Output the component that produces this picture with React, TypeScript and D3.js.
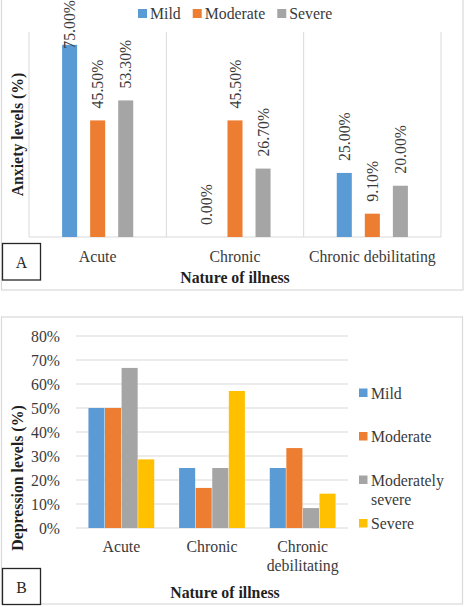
import React, { useEffect, useRef } from 'react';
import * as d3 from 'd3';

const categories = ['Acute', 'Chronic', 'Chronic debilitating'];

// Panel A – anxiety
const anxietyLevels = ['Mild', 'Moderate', 'Severe'];
const anxietyMild = [75.0, 0.0, 25.0];
const anxietyModerate = [45.5, 45.5, 9.1];
const anxietySevere = [53.3, 26.7, 20.0];

// Panel B – depression
const depressionLevels = ['Mild', 'Moderate', 'Moderately severe', 'Severe'];
const depressionMild = [50.0, 25.0, 25.0];
const depressionModerate = [50.0, 16.7, 33.3];
const depressionModSevere = [66.7, 25.0, 8.3];
const depressionSevere = [28.6, 57.1, 14.3];

const COLORS = ['#5B9BD5', '#ED7D31', '#A5A5A5', '#FFC000'];
const FONT = "'Liberation Serif'";
const FS = 15.8;
const TEXT = '#3a3a3a';
const GRID = '#d9d9d9';

// break a label into lines that fit maxWidth
function wrap(text: d3.Selection<SVGTextElement, any, any, any>, maxWidth: number, lineHeight: number) {
  text.each(function () {
    const t = d3.select(this);
    const words = t.text().split(/\s+/);
    const x = t.attr('x');
    t.text(null);
    let line: string[] = [];
    let tspan = t.append('tspan').attr('x', x).attr('dy', 0);
    words.forEach(w => {
      line.push(w);
      tspan.text(line.join(' '));
      if ((tspan.node() as SVGTSpanElement).getComputedTextLength() > maxWidth && line.length > 1) {
        line.pop();
        tspan.text(line.join(' '));
        line = [w];
        tspan = t.append('tspan').attr('x', x).attr('dy', lineHeight).text(w);
      }
    });
  });
}

const App: React.FC = () => {
  const svgRef = useRef<SVGSVGElement>(null);

  useEffect(() => {
    if (!svgRef.current) return;
    const svg = d3.select(svgRef.current);
    svg.selectAll('*').remove();

    // every text gets the serif face directly
    const label = (sel: d3.Selection<any, any, any, any>) =>
      sel.append('text').style('font-family', FONT).style('font-size', FS + 'px');

    // ---------- Panel A ----------
    const a = svg.append('g');
    a.append('rect')
      .attr('x', 1.5).attr('y', -2).attr('width', 461.5).attr('height', 292)
      .attr('fill', '#fff').attr('stroke', GRID).attr('stroke-width', 1.2);

    const xA = d3.scaleBand<string>().domain(categories).range([29, 441]);
    const xA1 = d3.scaleBand<string>().domain(anxietyLevels)
      .range([0, xA.bandwidth()]).paddingInner(0.464).paddingOuter(1.18);
    const yA = d3.scaleLinear().domain([0, 80]).range([237, 32]);

    // category separators
    const seps = [xA.range()[0], ...categories.map(c => (xA(c) as number) + xA.bandwidth())];
    a.selectAll('line.sep').data(seps).enter().append('line')
      .attr('x1', d => d).attr('x2', d => d)
      .attr('y1', yA(80)).attr('y2', yA(0))
      .attr('stroke', GRID).attr('stroke-width', 1);
    a.append('line')
      .attr('x1', 29).attr('x2', 441).attr('y1', yA(0)).attr('y2', yA(0))
      .attr('stroke', GRID).attr('stroke-width', 1);

    const anxietySeries = [anxietyMild, anxietyModerate, anxietySevere];
    const fmtA = (v: number) => d3.format('.2f')(v) + '%';
    anxietySeries.forEach((vals, si) => {
      const level = anxietyLevels[si];
      const g = a.append('g');
      g.selectAll('rect').data(vals).enter().append('rect')
        .attr('x', (d, i) => (xA(categories[i]) as number) + (xA1(level) as number))
        .attr('width', xA1.bandwidth())
        .attr('y', d => yA(d))
        .attr('height', d => yA(0) - yA(d))
        .attr('fill', COLORS[si]);

      g.selectAll('text').data(vals).enter().append('text')
        .style('font-family', FONT).style('font-size', FS + 'px')
        .text(d => fmtA(d))
        .attr('fill', TEXT)
        .attr('text-anchor', 'start')
        .attr('dy', '0.35em')
        .each(function (d, i) {
          const len = (this as SVGTextElement).getComputedTextLength();
          const cx = (xA(categories[i]) as number) + (xA1(level) as number) + xA1.bandwidth() / 2;
          // keep the label inside the chart area
          const start = Math.max(yA(d) - 12, len);
          d3.select(this).attr('transform', `translate(${cx},${start}) rotate(-90)`);
        });
    });

    // legend A
    let lx = 138;
    anxietyLevels.forEach((lv, i) => {
      a.append('rect').attr('x', lx).attr('y', 9).attr('width', 9).attr('height', 9).attr('fill', COLORS[i]);
      const t = label(a).attr('x', lx + 12).attr('y', 13).attr('dy', '0.35em')
        .attr('fill', TEXT).text(lv);
      lx += 12 + (t.node() as SVGTextElement).getComputedTextLength() + 12;
    });

    categories.forEach(c => {
      label(a)
        .attr('x', (xA(c) as number) + xA.bandwidth() / 2)
        .attr('y', 262)
        .attr('text-anchor', 'middle')
        .attr('fill', TEXT)
        .text(c);
    });

    label(a)
      .attr('x', 235).attr('y', 283)
      .attr('text-anchor', 'middle').attr('font-weight', 'bold').attr('fill', '#1f1f1f')
      .text('Nature of illness');
    label(a)
      .attr('transform', `translate(17,${(yA(0) + yA(80)) / 2}) rotate(-90)`)
      .attr('dy', '0.35em')
      .attr('text-anchor', 'middle').attr('font-weight', 'bold').attr('fill', '#1f1f1f')
      .text('Anxiety levels (%)');

    a.append('rect').attr('x', 2.5).attr('y', 243.5).attr('width', 38).attr('height', 36.5)
      .attr('fill', '#fff').attr('stroke', '#262626').attr('stroke-width', 1.3);
    label(a).attr('x', 21.5).attr('y', 262).attr('dy', '0.35em')
      .attr('text-anchor', 'middle').attr('fill', '#262626').text('A');

    // ---------- Panel B ----------
    const b = svg.append('g');
    b.append('rect')
      .attr('x', 1.5).attr('y', 317).attr('width', 461).attr('height', 287)
      .attr('fill', '#fff').attr('stroke', GRID).attr('stroke-width', 1.2);

    const xB = d3.scaleBand<string>().domain(categories).range([76, 348]);
    const xB1 = d3.scaleBand<string>().domain(depressionLevels)
      .range([0, xB.bandwidth()]).paddingInner(0.03).paddingOuter(0.75);
    const yB = d3.scaleLinear().domain([0, 0.8]).range([528, 336]);

    const ticksB = yB.ticks(8);
    b.selectAll('line.grid').data(ticksB).enter().append('line')
      .attr('x1', 76).attr('x2', 348)
      .attr('y1', d => yB(d)).attr('y2', d => yB(d))
      .attr('stroke', GRID).attr('stroke-width', 1);
    ticksB.forEach(t => {
      label(b)
        .attr('x', 60).attr('y', yB(t)).attr('dy', '0.35em')
        .attr('text-anchor', 'end').attr('fill', TEXT)
        .text(d3.format('.0%')(t));
    });

    const depressionSeries = [depressionMild, depressionModerate, depressionModSevere, depressionSevere];
    depressionSeries.forEach((vals, si) => {
      const level = depressionLevels[si];
      b.append('g').selectAll('rect').data(vals).enter().append('rect')
        .attr('x', (d, i) => (xB(categories[i]) as number) + (xB1(level) as number))
        .attr('width', xB1.bandwidth())
        .attr('y', d => yB(d / 100))
        .attr('height', d => yB(0) - yB(d / 100))
        .attr('fill', COLORS[si]);
    });

    categories.forEach(c => {
      label(b)
        .attr('x', (xB(c) as number) + xB.bandwidth() / 2)
        .attr('y', 552)
        .attr('text-anchor', 'middle')
        .attr('fill', TEXT)
        .text(c)
        .call(wrap as any, xB.bandwidth(), 19);
    });

    // legend B
    depressionLevels.forEach((lv, i) => {
      const cy = 393 + i * 43.5;
      b.append('rect').attr('x', 359).attr('y', cy - 4.5).attr('width', 8.5).attr('height', 8.5).attr('fill', COLORS[i]);
      label(b).attr('x', 371).attr('y', cy + 5.5)
        .attr('fill', TEXT).text(lv)
        .call(wrap as any, 88, 19);
    });

    label(b)
      .attr('x', 225).attr('y', 598)
      .attr('text-anchor', 'middle').attr('font-weight', 'bold').attr('fill', '#1f1f1f')
      .text('Nature of illness');
    label(b)
      .attr('transform', 'translate(17,478) rotate(-90)')
      .attr('dy', '0.35em')
      .attr('text-anchor', 'middle').attr('font-weight', 'bold').attr('fill', '#1f1f1f')
      .text('Depression levels (%)');

    b.append('rect').attr('x', 2.5).attr('y', 568.5).attr('width', 38).attr('height', 36)
      .attr('fill', '#fff').attr('stroke', '#262626').attr('stroke-width', 1.3);
    label(b).attr('x', 21.5).attr('y', 587).attr('dy', '0.35em')
      .attr('text-anchor', 'middle').attr('fill', '#262626').text('B');
  }, []);

  return (
    <div style={{ position: 'absolute', left: 0, top: 0, background: '#fff' }}>
      <svg ref={svgRef} width={467} height={607} style={{ display: 'block' }}></svg>
    </div>
  );
};

export default App;
